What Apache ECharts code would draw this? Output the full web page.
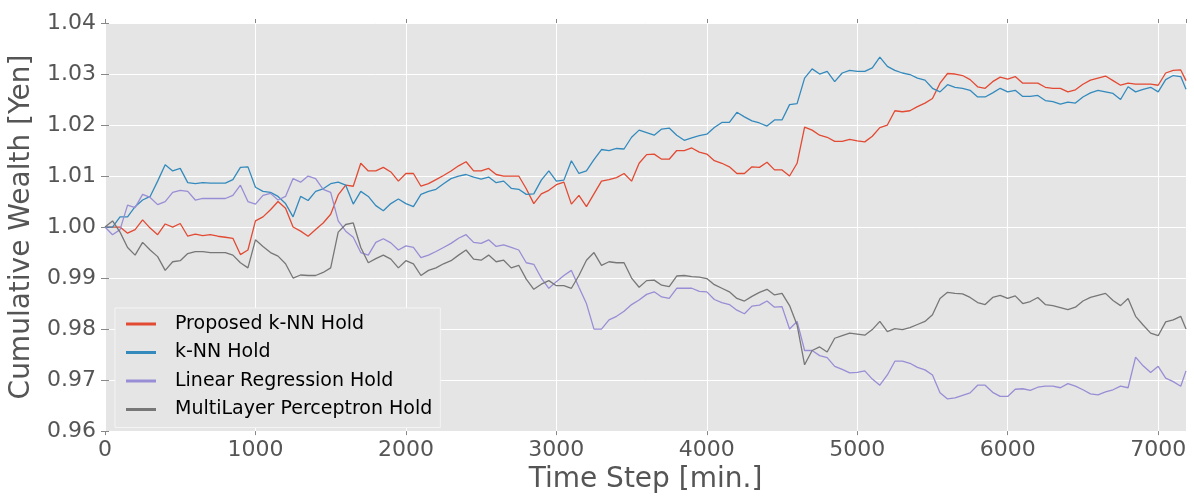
<!DOCTYPE html>
<html>
<head>
<meta charset="utf-8">
<script src="https://cdn.jsdelivr.net/npm/echarts@6/dist/echarts.min.js"></script>
<style>html,body{margin:0;padding:0;background:#fff;}#c{width:1194px;height:499px;}</style>
</head>
<body>
<div id="c"></div>
<script>
// Sampling grid of time steps (every 50 min, last sample at the end of the run)
const steps = Array.from({length: 144}, (_, i) => i * 50).concat([7185]);

const seriesNames = ['Proposed k-NN Hold', 'k-NN Hold', 'Linear Regression Hold', 'MultiLayer Perceptron Hold'];

const proposedKnn = [
1.0000,1.0000,1.0000,0.9988,0.9995,1.0014,0.9998,0.9985,1.0006,1.0000,
1.0007,0.9982,0.9986,0.9983,0.9985,0.9982,0.9980,0.9978,0.9946,0.9955,
1.0012,1.0020,1.0034,1.0050,1.0037,1.0000,0.9992,0.9982,0.9995,1.0008,
1.0025,1.0063,1.0082,1.0080,1.0125,1.0110,1.0110,1.0117,1.0108,1.0090,
1.0105,1.0105,1.0080,1.0085,1.0093,1.0101,1.0110,1.0120,1.0128,1.0110,
1.0110,1.0115,1.0103,1.0100,1.0100,1.0100,1.0075,1.0046,1.0065,1.0072,
1.0083,1.0088,1.0045,1.0062,1.0040,1.0065,1.0090,1.0093,1.0097,1.0105,
1.0090,1.0125,1.0142,1.0143,1.0133,1.0133,1.0150,1.0150,1.0155,1.0147,
1.0143,1.0130,1.0125,1.0118,1.0105,1.0105,1.0118,1.0117,1.0127,1.0112,
1.0112,1.0100,1.0125,1.0196,1.0190,1.0180,1.0176,1.0168,1.0168,1.0172,
1.0169,1.0167,1.0178,1.0195,1.0200,1.0228,1.0226,1.0228,1.0236,1.0243,
1.0252,1.0282,1.0301,1.0300,1.0297,1.0289,1.0275,1.0272,1.0285,1.0294,
1.0290,1.0295,1.0282,1.0282,1.0282,1.0274,1.0272,1.0272,1.0265,1.0269,
1.0280,1.0288,1.0292,1.0296,1.0287,1.0278,1.0282,1.0280,1.0280,1.0280,
1.0278,1.0302,1.0307,1.0308,1.0287];

const knn = [
1.0000,1.0000,1.0020,1.0020,1.0040,1.0053,1.0060,1.0090,1.0122,1.0110,
1.0115,1.0087,1.0085,1.0087,1.0086,1.0086,1.0086,1.0093,1.0117,1.0118,
1.0078,1.0070,1.0068,1.0060,1.0046,1.0020,1.0060,1.0052,1.0070,1.0075,
1.0085,1.0088,1.0082,1.0045,1.0070,1.0060,1.0042,1.0032,1.0046,1.0055,
1.0046,1.0040,1.0064,1.0070,1.0074,1.0085,1.0095,1.0100,1.0103,1.0098,
1.0094,1.0098,1.0087,1.0090,1.0076,1.0074,1.0064,1.0065,1.0092,1.0110,
1.0090,1.0092,1.0130,1.0105,1.0110,1.0132,1.0152,1.0150,1.0154,1.0153,
1.0176,1.0190,1.0185,1.0180,1.0192,1.0194,1.0180,1.0170,1.0175,1.0179,
1.0182,1.0195,1.0205,1.0205,1.0225,1.0216,1.0208,1.0204,1.0198,1.0210,
1.0210,1.0240,1.0242,1.0292,1.0310,1.0300,1.0305,1.0285,1.0302,1.0307,
1.0305,1.0305,1.0312,1.0333,1.0315,1.0307,1.0302,1.0299,1.0292,1.0288,
1.0272,1.0265,1.0279,1.0274,1.0272,1.0268,1.0255,1.0255,1.0263,1.0272,
1.0265,1.0268,1.0256,1.0256,1.0258,1.0248,1.0246,1.0241,1.0245,1.0243,
1.0255,1.0263,1.0268,1.0265,1.0262,1.0250,1.0275,1.0265,1.0270,1.0274,
1.0265,1.0289,1.0297,1.0295,1.0270];

const linReg = [
1.0000,0.9985,0.9995,1.0043,1.0038,1.0064,1.0058,1.0044,1.0050,1.0068,
1.0072,1.0070,1.0053,1.0056,1.0056,1.0056,1.0056,1.0062,1.0082,1.0050,
1.0045,1.0062,1.0066,1.0053,1.0060,1.0095,1.0088,1.0100,1.0095,1.0074,
1.0068,1.0012,0.9992,0.9980,0.9950,0.9945,0.9970,0.9977,0.9969,0.9955,
0.9963,0.9960,0.9940,0.9945,0.9952,0.9960,0.9968,0.9978,0.9985,0.9970,
0.9968,0.9975,0.9962,0.9965,0.9960,0.9955,0.9930,0.9927,0.9900,0.9880,
0.9893,0.9905,0.9915,0.9882,0.9850,0.9800,0.9800,0.9818,0.9825,0.9835,
0.9848,0.9857,0.9868,0.9873,0.9863,0.9860,0.9880,0.9880,0.9880,0.9874,
0.9873,0.9858,0.9852,0.9848,0.9837,0.9830,0.9845,0.9847,0.9855,0.9843,
0.9844,0.9800,0.9815,0.9758,0.9758,0.9748,0.9744,0.9727,0.9721,0.9714,
0.9715,0.9718,0.9702,0.9690,0.9710,0.9737,0.9737,0.9733,0.9725,0.9720,
0.9710,0.9675,0.9663,0.9665,0.9670,0.9675,0.9690,0.9690,0.9676,0.9668,
0.9668,0.9682,0.9683,0.9680,0.9686,0.9688,0.9688,0.9685,0.9693,0.9688,
0.9681,0.9673,0.9671,0.9677,0.9681,0.9688,0.9685,0.9745,0.9728,0.9715,
0.9727,0.9704,0.9697,0.9688,0.9718];

const mlp = [
1.0000,1.0012,0.9990,0.9960,0.9945,0.9970,0.9955,0.9942,0.9915,0.9932,
0.9934,0.9948,0.9952,0.9952,0.9950,0.9950,0.9950,0.9945,0.9930,0.9920,
0.9975,0.9962,0.9950,0.9943,0.9928,0.9900,0.9906,0.9905,0.9905,0.9911,
0.9920,0.9990,1.0005,1.0008,0.9960,0.9930,0.9938,0.9945,0.9937,0.9920,
0.9934,0.9928,0.9905,0.9915,0.9920,0.9928,0.9934,0.9945,0.9955,0.9937,
0.9935,0.9945,0.9932,0.9935,0.9920,0.9925,0.9898,0.9878,0.9888,0.9895,
0.9885,0.9885,0.9880,0.9905,0.9935,0.9950,0.9925,0.9932,0.9930,0.9930,
0.9900,0.9882,0.9895,0.9896,0.9886,0.9883,0.9904,0.9905,0.9903,0.9902,
0.9899,0.9887,0.9880,0.9873,0.9860,0.9855,0.9864,0.9872,0.9878,0.9867,
0.9870,0.9846,0.9808,0.9730,0.9758,0.9765,0.9755,0.9782,0.9787,0.9792,
0.9790,0.9788,0.9799,0.9815,0.9795,0.9801,0.9799,0.9803,0.9809,0.9815,
0.9828,0.9860,0.9872,0.9870,0.9869,0.9862,0.9852,0.9848,0.9862,0.9866,
0.9860,0.9865,0.9850,0.9854,0.9862,0.9848,0.9846,0.9842,0.9838,0.9843,
0.9855,0.9862,0.9866,0.9870,0.9856,0.9846,0.9860,0.9825,0.9808,0.9792,
0.9787,0.9814,0.9818,0.9825,0.9800];

const colors = ['#E24A33', '#348ABD', '#988ED5', '#777777'];
const allValues = [proposedKnn, knn, linReg, mlp];

const FONT = 'DejaVu Sans';
const chart = echarts.init(document.getElementById('c'), null, {renderer: 'canvas'});

const series = allValues.map((vals, k) => ({
  name: seriesNames[k],
  type: 'line',
  xAxisIndex: 0,
  yAxisIndex: 0,
  data: steps.map((t, i) => [t, vals[i]]),
  showSymbol: false,
  symbol: 'none',
  lineStyle: {color: colors[k], width: 1.3},
  itemStyle: {color: colors[k]},
  animation: false,
  z: 2 + k
}));

const tickStyle = {show: true, length: 4, inside: false, lineStyle: {color: '#888888', width: 1}};

chart.setOption({
  animation: false,
  backgroundColor: '#ffffff',
  grid: {left: 105, right: 8, top: 23, bottom: 64, show: true, backgroundColor: '#E5E5E5', borderWidth: 0},
  legend: {
    orient: 'vertical',
    left: 115, top: 308,
    padding: [6, 8, 8, 11],
    backgroundColor: '#E5E5E5',
    borderColor: '#F4F4F4',
    borderWidth: 1,
    borderRadius: 0,
    itemWidth: 30, itemHeight: 3,
    itemGap: 8.5,
    icon: 'rect',
    textStyle: {fontFamily: FONT, fontSize: 19, color: '#000000', lineHeight: 20, padding: [0, 0, 0, 14]},
    data: seriesNames
  },
  xAxis: [{
    type: 'value', min: 0, max: 7185, interval: 1000,
    name: 'Time Step [min.]', nameLocation: 'middle', nameGap: 33,
    nameTextStyle: {fontFamily: FONT, fontSize: 28, color: '#555555'},
    axisLine: {show: false},
    axisTick: tickStyle,
    axisLabel: {fontFamily: FONT, fontSize: 22, color: '#555555', margin: 8, showMaxLabel: false, formatter: v => String(v)},
    splitLine: {show: true, lineStyle: {color: '#ffffff', width: 1}}
  }, {
    type: 'value', min: 0, max: 7185, interval: 1000, position: 'top',
    axisLine: {show: false}, axisTick: tickStyle, axisLabel: {show: false}, splitLine: {show: false}
  }],
  yAxis: [{
    type: 'value', min: 0.96, max: 1.04, interval: 0.01,
    name: 'Cumulative Wealth [Yen]', nameLocation: 'middle', nameGap: 63, nameRotate: 90,
    nameTextStyle: {fontFamily: FONT, fontSize: 28, color: '#555555'},
    axisLine: {show: false},
    axisTick: tickStyle,
    axisLabel: {fontFamily: FONT, fontSize: 22, color: '#555555', margin: 9, formatter: v => v.toFixed(2)},
    splitLine: {show: true, lineStyle: {color: '#ffffff', width: 1}}
  }, {
    type: 'value', min: 0.96, max: 1.04, interval: 0.01, position: 'right',
    axisLine: {show: false}, axisTick: tickStyle, axisLabel: {show: false}, splitLine: {show: false}
  }],
  series: series
});
</script>
</body>
</html>
